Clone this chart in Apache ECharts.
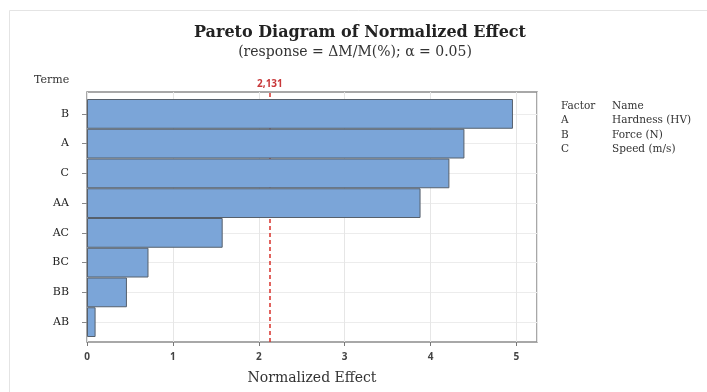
<!DOCTYPE html>
<html>
<head>
<meta charset="utf-8">
<script src="https://cdn.jsdelivr.net/npm/echarts@6/dist/echarts.min.js"></script>
<style>
html,body{margin:0;padding:0;background:#fff;}
#chart{width:707px;height:392px;}
</style>
</head>
<body>
<div id="chart"></div>
<script>
// ---- data ----
const terms = ['B', 'A', 'C', 'AA', 'AC', 'BC', 'BB', 'AB'];
const effects = [4.96, 4.395, 4.22, 3.884, 1.58, 0.716, 0.465, 0.10];
const criticalValue = 2.131;
const criticalLabel = '2,131';
const xTicks = ['0', '1', '2', '3', '4', '5'];
const factorCodes = ['A', 'B', 'C'];
const factorNames = ['Hardness (HV)', 'Force (N)', 'Speed (m/s)'];

const serif = '"DejaVu Serif", "Liberation Serif", serif';
const sans = '"Open Sans", "DejaVu Sans", sans-serif';
const XMAX = 5.24;

const legendGraphics = [
  {type:'text', left:561, top:101, style:{text:'Factor', font:'10.5px ' + serif, fill:'#333'}},
  {type:'text', left:612, top:101, style:{text:'Name', font:'10.5px ' + serif, fill:'#333'}}
];
factorCodes.forEach((c, i) => {
  legendGraphics.push({type:'text', left:561, top:115 + i*14.5, style:{text:c, font:'10.5px ' + serif, fill:'#333'}});
  legendGraphics.push({type:'text', left:612, top:115 + i*14.5, style:{text:factorNames[i], font:'10.5px ' + serif, fill:'#333'}});
});

const chart = echarts.init(document.getElementById('chart'), null, {renderer:'canvas'});
chart.setOption({
  backgroundColor:'#fff',
  animation:false,
  title:[
    {
      text:'Pareto Diagram of Normalized Effect',
      left:360, top:25, textAlign:'center', padding:0,
      textStyle:{fontFamily:serif, fontSize:16, fontWeight:'bold', color:'#222'}
    },
    {
      text:'(response = \u0394M/M(%); \u03b1 = 0.05)',
      left:355, top:45, textAlign:'center', padding:0,
      textStyle:{fontFamily:serif, fontSize:14, fontWeight:'normal', color:'#333'}
    }
  ],
  graphic:[
    {type:'rect', shape:{x:9.5, y:10.5, width:720, height:400}, style:{fill:'none', stroke:'#e4e4e4', lineWidth:1}, silent:true},
    {type:'text', left:34, top:75, style:{text:'Terme', font:'11px ' + serif, fill:'#333'}}
  ].concat(legendGraphics),
  grid:[
    {left:87, right:170, top:92, bottom:50, show:true, borderColor:'#8c8c8c', borderWidth:1.5, backgroundColor:'transparent'},
    {left:87, right:170, top:99, bottom:55}
  ],
  xAxis:[
    {
      gridIndex:0, type:'value', min:0, max:XMAX, interval:1,
      axisLine:{show:false},
      axisTick:{show:true, length:4, lineStyle:{color:'#777'}},
      axisLabel:{margin:10, fontFamily:sans, fontSize:10, fontWeight:'bold', color:'#444', showMaxLabel:false,
        formatter:(v)=> Math.abs(v-Math.round(v))<1e-9 && xTicks[Math.round(v)] !== undefined ? xTicks[Math.round(v)] : ''},
      splitLine:{show:true, lineStyle:{color:'#e6e6e6', width:1}},
      name:'Normalized Effect', nameLocation:'middle', nameGap:29,
      nameTextStyle:{fontFamily:serif, fontSize:14, color:'#333'}
    },
    {gridIndex:1, type:'value', min:0, max:XMAX, show:false}
  ],
  yAxis:[
    {gridIndex:0, type:'value', min:0, max:1, show:false},
    {
      gridIndex:1, type:'category', data:terms, inverse:true,
      axisLine:{show:false},
      axisTick:{show:true, alignWithLabel:true, length:5, lineStyle:{color:'#888'}},
      axisLabel:{margin:18, fontFamily:serif, fontSize:11, color:'#222'},
      splitLine:{show:true, alignWithLabel:true, lineStyle:{color:'#ececec', width:1}}
    }
  ],
  series:[
    {
      type:'bar', xAxisIndex:1, yAxisIndex:1, data:effects, z:3,
      barCategoryGap:'0%',
      itemStyle:{color:'#7ba5d8', borderColor:'#56606c', borderWidth:1}
    },
    {
      type:'line', xAxisIndex:0, yAxisIndex:0, data:[], silent:true, z:1,
      markLine:{
        silent:true, symbol:'none', z:1,
        lineStyle:{color:'#d8302a', type:[4,3], width:1.5},
        label:{show:true, position:'end', formatter:criticalLabel, distance:3,
          fontFamily:sans, fontSize:10, fontWeight:'bold', color:'#c8383a'},
        data:[{xAxis:criticalValue}]
      }
    }
  ]
});
</script>
</body>
</html>
